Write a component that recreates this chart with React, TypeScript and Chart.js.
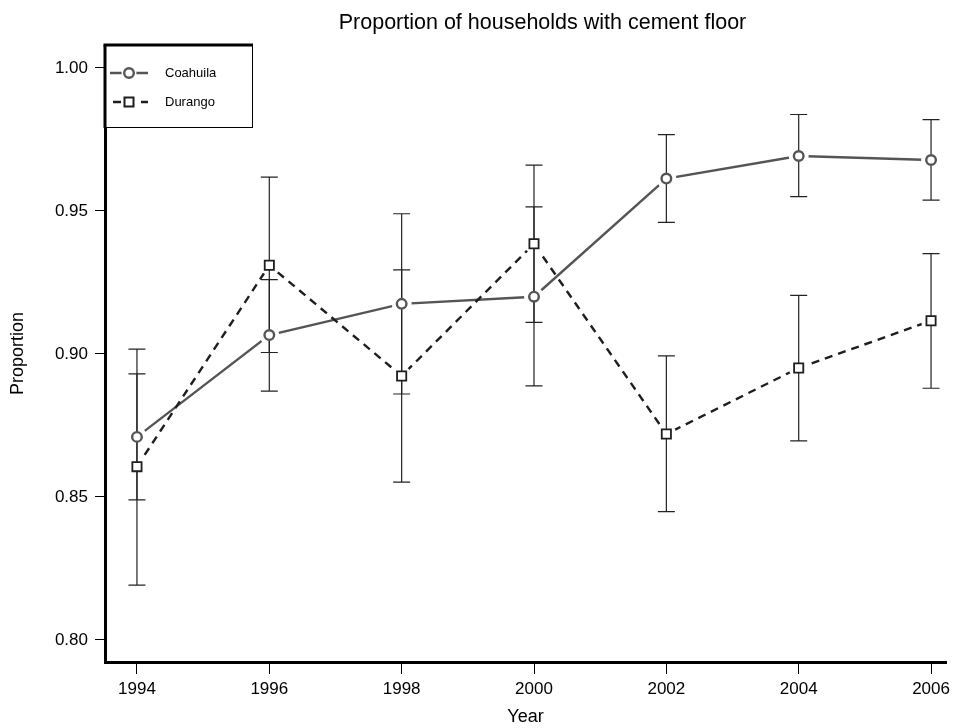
import React, { useEffect, useRef } from "react";
import { Chart, registerables } from "chart.js";

Chart.register(...registerables);

const years = [1994, 1996, 1998, 2000, 2002, 2004, 2006];
const yTickValues = [0.8, 0.85, 0.9, 0.95, 1.0];

const seriesNames = ["Coahuila", "Durango"];

const coahuila = [0.871, 0.9066, 0.9175, 0.92, 0.9613, 0.9692, 0.9678];
const coahuilaLow = [0.849, 0.887, 0.886, 0.8888, 0.946, 0.955, 0.9538];
const coahuilaHigh = [0.893, 0.926, 0.949, 0.9514, 0.9767, 0.9837, 0.9819];

const durango = [0.8606, 0.931, 0.8923, 0.9385, 0.872, 0.8951, 0.9116];
const durangoLow = [0.8192, 0.9005, 0.8552, 0.911, 0.8449, 0.8696, 0.888];
const durangoHigh = [0.9017, 0.9618, 0.9294, 0.966, 0.8993, 0.9205, 0.9351];

const titleText = "Proportion of households with cement floor";
const xTitle = "Year";
const yTitle = "Proportion";

const FONT = "'Liberation Sans', Arial, Helvetica, sans-serif";
const C_COLOR = "#555555";
const D_COLOR = "#1e1e1e";
const DASH = [8, 6];

function pts(vals: number[]) {
  return years.map((x, i) => ({ x, y: vals[i] }));
}

export default function App() {
  const ref = useRef<HTMLCanvasElement>(null);

  useEffect(() => {
    if (!ref.current) return;

    const errorBars = {
      id: "errorBars",
      beforeDatasetDraw(chart: any, args: any) {
        if (args.index !== 4) return;
        const ctx = chart.ctx;
        const xs = chart.scales.x;
        const ys = chart.scales.y;
        ctx.save();
        ctx.strokeStyle = "#222";
        ctx.lineWidth = 1.2;
        const sets = [
          [coahuilaLow, coahuilaHigh],
          [durangoLow, durangoHigh],
        ];
        for (const [lo, hi] of sets) {
          for (let i = 0; i < years.length; i++) {
            const x = xs.getPixelForValue(years[i]);
            const y1 = ys.getPixelForValue(lo[i]);
            const y2 = ys.getPixelForValue(hi[i]);
            ctx.beginPath();
            ctx.moveTo(x, y1);
            ctx.lineTo(x, y2);
            ctx.moveTo(x - 8.5, y1);
            ctx.lineTo(x + 8.5, y1);
            ctx.moveTo(x - 8.5, y2);
            ctx.lineTo(x + 8.5, y2);
            ctx.stroke();
          }
        }
        ctx.restore();
      },
    };

    const titleShift = {
      id: "titleShift",
      afterLayout(chart: any) {
        const t = chart.titleBlock;
        if (t) {
          t.left += 17;
          t.right += 17;
        }
      },
    };

    const legendBox = {
      id: "legendBox",
      afterDraw(chart: any) {
        const ctx = chart.ctx;
        const left = chart.chartArea.left;
        const top = chart.chartArea.top;
        const w = 148;
        const h = 83;
        ctx.save();
        ctx.fillStyle = "#fff";
        ctx.fillRect(left, top, w, h);
        ctx.strokeStyle = "#000";
        ctx.lineWidth = 1;
        ctx.strokeRect(left + 0.5, top + 0.5, w - 1, h - 1);
        ctx.lineWidth = 3;
        ctx.beginPath();
        ctx.moveTo(left - 1.5, top);
        ctx.lineTo(left + w, top);
        ctx.stroke();
        ctx.beginPath();
        ctx.moveTo(left, top);
        ctx.lineTo(left, top + h);
        ctx.stroke();

        const rows = [
          { y: top + 28, color: C_COLOR, dash: [] as number[], shape: "circle" },
          { y: top + 57, color: D_COLOR, dash: DASH, shape: "rect" },
        ];
        rows.forEach((r, i) => {
          ctx.strokeStyle = r.color;
          ctx.lineWidth = 2.4;
          ctx.setLineDash(r.dash);
          ctx.lineDashOffset = i === 1 ? -3 : 0;
          ctx.beginPath();
          ctx.moveTo(left + 5, r.y);
          ctx.lineTo(left + 43, r.y);
          ctx.stroke();
          ctx.setLineDash([]);
          const cx = left + 24;
          ctx.fillStyle = "#fff";
          ctx.beginPath();
          ctx.arc(cx, r.y, 7.5, 0, Math.PI * 2);
          ctx.fill();
          if (r.shape === "circle") {
            ctx.lineWidth = 2.4;
            ctx.beginPath();
            ctx.arc(cx, r.y, 4.8, 0, Math.PI * 2);
            ctx.stroke();
          } else {
            ctx.lineWidth = 2;
            ctx.strokeStyle = D_COLOR;
            ctx.strokeRect(cx - 4.5, r.y - 4.5, 9, 9);
          }
          ctx.fillStyle = "#000";
          ctx.font = `13px ${FONT}`;
          ctx.textBaseline = "middle";
          ctx.textAlign = "left";
          ctx.fillText(seriesNames[i], left + 60, r.y);
        });
        ctx.restore();
      },
    };

    const chart = new Chart(ref.current, {
      type: "line",
      data: {
        datasets: [
          {
            label: seriesNames[0],
            data: pts(coahuila),
            borderColor: C_COLOR,
            borderWidth: 2.4,
            pointRadius: 0,
            fill: false,
            order: 5,
          },
          {
            label: seriesNames[1],
            data: pts(durango),
            borderColor: D_COLOR,
            borderWidth: 2.4,
            borderDash: DASH,
            pointRadius: 0,
            fill: false,
            order: 4,
          },
          {
            label: "halo1",
            data: pts(coahuila),
            showLine: false,
            pointRadius: 10,
            pointBorderWidth: 0,
            pointBackgroundColor: "#fff",
            pointBorderColor: "#fff",
            order: 3,
          },
          {
            label: "halo2",
            data: pts(durango),
            showLine: false,
            pointRadius: 10,
            pointBorderWidth: 0,
            pointBackgroundColor: "#fff",
            pointBorderColor: "#fff",
            order: 3,
          },
          {
            label: seriesNames[0] + " points",
            data: pts(coahuila),
            showLine: false,
            pointStyle: "circle",
            pointRadius: 4.8,
            pointBorderWidth: 2.4,
            pointBorderColor: C_COLOR,
            pointBackgroundColor: "#fff",
            order: 1,
          },
          {
            label: seriesNames[1] + " points",
            data: pts(durango),
            showLine: false,
            pointStyle: "rect",
            pointRadius: 6.5,
            pointBorderWidth: 1.8,
            pointBorderColor: D_COLOR,
            pointBackgroundColor: "#fff",
            order: 0,
          },
        ],
      },
      options: {
        animation: false,
        responsive: false,
        maintainAspectRatio: false,
        layout: { padding: 0 },
        plugins: {
          legend: { display: false },
          tooltip: { enabled: false },
          title: {
            display: true,
            text: titleText,
            fullSize: false,
            color: "#000",
            font: { family: FONT, size: 21.5, weight: "normal" as any, lineHeight: 1.2 },
            padding: { top: 10, bottom: 9.2 },
          },
        },
        scales: {
          x: {
            type: "linear",
            min: 1993.517,
            max: 2006.226,
            afterBuildTicks: (s: any) => {
              s.ticks = years.map((v) => ({ value: v }));
            },
            afterFit: (s: any) => {
              s.height = 66;
              s.paddingLeft = 0;
              s.paddingRight = 0;
            },
            ticks: {
              color: "#000",
              padding: 5,
              maxRotation: 0,
              autoSkip: false,
              font: { family: FONT, size: 17 },
              callback: (v: any) => String(v),
            },
            grid: {
              display: true,
              drawOnChartArea: false,
              drawTicks: true,
              tickLength: 12,
              color: "#000",
              lineWidth: 1,
            },
            border: { display: true, color: "#000", width: 3 },
            title: {
              display: true,
              text: xTitle,
              color: "#000",
              font: { family: FONT, size: 18, lineHeight: 1.2 },
              padding: { top: 0, bottom: 0 },
            },
          },
          y: {
            type: "linear",
            min: 0.7923,
            max: 1.008,
            afterBuildTicks: (s: any) => {
              s.ticks = yTickValues.map((v) => ({ value: v }));
            },
            afterFit: (s: any) => {
              s.width = 105;
              s.paddingTop = 0;
              s.paddingBottom = 0;
            },
            ticks: {
              color: "#000",
              padding: 7,
              autoSkip: false,
              font: { family: FONT, size: 17 },
              callback: (v: any) => Number(v).toFixed(2),
            },
            grid: {
              display: true,
              drawOnChartArea: false,
              drawTicks: true,
              tickLength: 10,
              color: "#000",
              lineWidth: 1,
            },
            border: { display: true, color: "#000", width: 3 },
            title: {
              display: true,
              text: yTitle,
              color: "#000",
              font: { family: FONT, size: 18, lineHeight: 1.2 },
              padding: { top: 7, bottom: 0 },
            },
          },
        },
      },
      plugins: [errorBars, titleShift, legendBox],
    });

    return () => chart.destroy();
  }, []);

  return (
    <div
      style={{
        position: "fixed",
        left: 0,
        top: 0,
        width: 956,
        height: 728,
        background: "#fff",
      }}
    >
      <canvas ref={ref} width={956} height={728} style={{ display: "block" }} />
    </div>
  );
}
